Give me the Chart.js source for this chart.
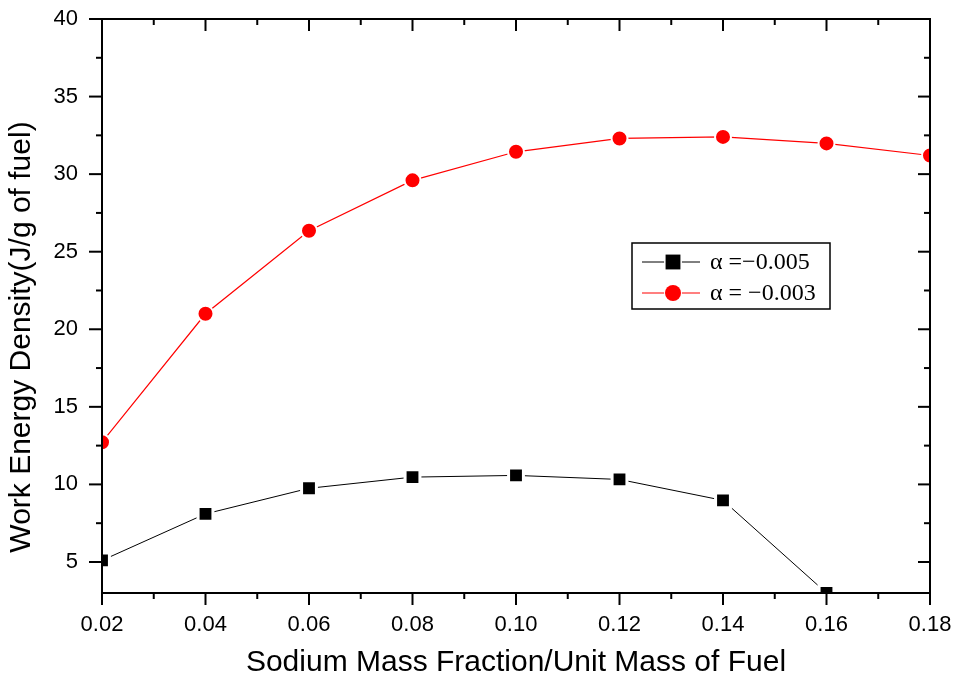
<!DOCTYPE html>
<html>
<head>
<meta charset="utf-8">
<script src="https://cdn.jsdelivr.net/npm/chart.js@4.4.1/dist/chart.umd.min.js"></script>
<style>
  html, body { margin: 0; padding: 0; background: #fff; }
  #wrap { width: 956px; height: 681px; }
</style>
</head>
<body>
<div id="wrap"><canvas id="chart" width="956" height="681"></canvas></div>
<script>
// ─── Data ────────────────────────────────────────────
var massFraction = [0.02, 0.04, 0.06, 0.08, 0.10, 0.12, 0.14, 0.16, 0.18];
var alpha005 = [5.1, 8.1, 9.75, 10.47, 10.58, 10.32, 8.97, 3.0];
var alpha003 = [12.72, 21.0, 26.35, 29.6, 31.44, 32.3, 32.4, 31.98, 31.2];
var seriesLabels = ['\u03B1 =\u22120.005', '\u03B1 = \u22120.003'];
var xTicks = [0.02, 0.04, 0.06, 0.08, 0.10, 0.12, 0.14, 0.16, 0.18];
var xMinor = [0.03, 0.05, 0.07, 0.09, 0.11, 0.13, 0.15, 0.17];
var yTicks = [5, 10, 15, 20, 25, 30, 35, 40];
var yMinor = [7.5, 12.5, 17.5, 22.5, 27.5, 32.5, 37.5];
var xTitle = 'Sodium Mass Fraction/Unit Mass of Fuel';
var yTitle = 'Work Energy Density(J/g of fuel)';

function toPoints(vals) {
  return vals.map(function(v, i) { return { x: massFraction[i], y: v }; });
}

// ─── Frame, ticks, titles, legend ────────────────────
var framePlugin = {
  id: 'frame',
  afterDatasetsDraw: function(chart) {
    var ctx = chart.ctx, a = chart.chartArea;
    var xs = chart.scales.x, ys = chart.scales.y;
    ctx.save();
    ctx.strokeStyle = '#000';
    ctx.lineWidth = 2;
    ctx.strokeRect(a.left, a.top, a.right - a.left, a.bottom - a.top);

    function tick(x1, y1, x2, y2) { ctx.beginPath(); ctx.moveTo(x1, y1); ctx.lineTo(x2, y2); ctx.stroke(); }
    xTicks.forEach(function(v) {
      var px = xs.getPixelForValue(v);
      tick(px, a.bottom, px, a.bottom + 12);
      tick(px, a.top, px, a.top + 12);
    });
    xMinor.forEach(function(v) {
      var px = xs.getPixelForValue(v);
      tick(px, a.bottom, px, a.bottom + 6);
      tick(px, a.top, px, a.top + 6);
    });
    yTicks.forEach(function(v) {
      var py = ys.getPixelForValue(v);
      tick(a.left, py, a.left - 13, py);
      tick(a.right, py, a.right - 12, py);
    });
    yMinor.forEach(function(v) {
      var py = ys.getPixelForValue(v);
      tick(a.left, py, a.left - 6, py);
      tick(a.right, py, a.right - 6, py);
    });

    // axis titles; y title sits a bit below centre, as in the original
    ctx.fillStyle = '#000';
    ctx.font = '30px "Liberation Sans", Arial, sans-serif';
    ctx.textAlign = 'center';
    ctx.textBaseline = 'middle';
    ctx.save();
    ctx.translate(22, 337);
    ctx.rotate(-Math.PI / 2);
    ctx.fillText(yTitle, 0, 0);
    ctx.restore();
    ctx.fillText(xTitle, (a.left + a.right) / 2, 663);

    // legend box
    var bx = 632, by = 243, bw = 198, bh = 66;
    ctx.fillStyle = '#fff';
    ctx.fillRect(bx, by, bw, bh);
    ctx.lineWidth = 1.5;
    ctx.strokeStyle = '#000';
    ctx.strokeRect(bx, by, bw, bh);
    ctx.font = '24px "Liberation Serif", "Times New Roman", serif';
    ctx.textAlign = 'left';
    chart.data.datasets.forEach(function(ds, i) {
      var ly = by + 19 + i * 31;
      ctx.strokeStyle = ds.borderColor;
      ctx.lineWidth = ds.borderWidth;
      tick(bx + 10, ly, bx + 68, ly);
      ctx.fillStyle = ds.pointBackgroundColor;
      ctx.strokeStyle = ds.pointBorderColor;
      ctx.lineWidth = ds.pointBorderWidth;
      ctx.beginPath();
      if (ds.pointStyle === 'rect') {
        var s = ds.pointRadius * Math.SQRT1_2;
        ctx.rect(bx + 41 - s, ly - s, 2 * s, 2 * s);
      } else {
        ctx.arc(bx + 41, ly, ds.pointRadius, 0, Math.PI * 2);
      }
      ctx.stroke();
      ctx.fill();
      ctx.fillStyle = '#000';
      ctx.fillText(ds.label, bx + 78, ly + 1);
    });
    ctx.restore();
  }
};

// ─── Chart ───────────────────────────────────────────
var ctx = document.getElementById('chart').getContext('2d');
new Chart(ctx, {
  type: 'line',
  data: {
    datasets: [
      {
        label: seriesLabels[0], data: toPoints(alpha005),
        borderColor: '#000', borderWidth: 1,
        pointStyle: 'rect', pointRadius: 10.5, pointHoverRadius: 10.5,
        pointBackgroundColor: '#000', pointBorderColor: '#fff', pointBorderWidth: 3
      },
      {
        label: seriesLabels[1], data: toPoints(alpha003),
        borderColor: '#ff0000', borderWidth: 1.2,
        pointStyle: 'circle', pointRadius: 8, pointHoverRadius: 8,
        pointBackgroundColor: '#ff0000', pointBorderColor: '#fff', pointBorderWidth: 2
      }
    ]
  },
  options: {
    responsive: false, animation: false,
    layout: { padding: { left: 0, top: 19, right: 26, bottom: 0 } },
    plugins: { legend: { display: false }, tooltip: { enabled: false } },
    scales: {
      x: {
        type: 'linear', min: 0.02, max: 0.18,
        grid: { display: false }, border: { display: false },
        afterBuildTicks: function(s) { s.ticks = xTicks.map(function(v) { return { value: v }; }); },
        afterFit: function(s) { s.height = 88; s.paddingLeft = 0; s.paddingRight = 0; },
        ticks: {
          color: '#000', padding: 11, maxRotation: 0,
          font: { family: '"Liberation Sans", Arial, sans-serif', size: 22 },
          callback: function(v) { return v.toFixed(2); }
        }
      },
      y: {
        min: 3, max: 40,
        grid: { display: false }, border: { display: false },
        afterBuildTicks: function(s) { s.ticks = yTicks.map(function(v) { return { value: v }; }); },
        afterFit: function(s) { s.width = 102; s.paddingTop = 0; s.paddingBottom = 0; },
        ticks: {
          color: '#000', padding: 16,
          font: { family: '"Liberation Sans", Arial, sans-serif', size: 22 }
        }
      }
    }
  },
  plugins: [framePlugin]
});
</script>
</body>
</html>
